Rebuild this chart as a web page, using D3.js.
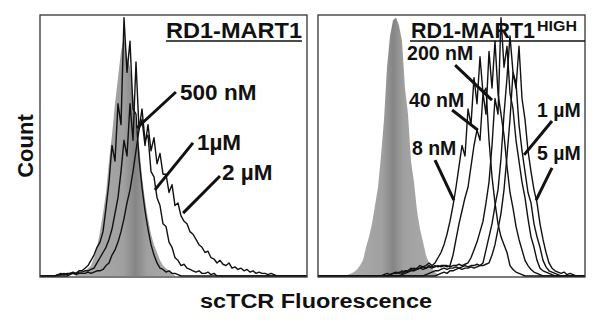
<!DOCTYPE html>
<html>
<head>
<meta charset="utf-8">
<script src="https://cdn.jsdelivr.net/npm/d3@7"></script>
<style>
  body { margin: 0; background: #fff; }
  text { font-family: "Liberation Sans", Arial, sans-serif; font-weight: bold; fill: #111; }
</style>
</head>
<body>
<svg width="601" height="324"></svg>
<script>
// histogram channels shown in each panel
const binCount = 89;

// left panel: RD1-MART1 (first bin of each series + counts per bin, % of max)
const leftControlStart = 12;
const leftControl = [0.5, 1, 1, 2, 3, 4, 7, 11, 17, 24, 32, 44, 54, 66, 76, 86, 92, 84, 80, 70, 58, 50, 38, 29, 22, 16, 12, 9, 6, 4, 3, 2, 1, 0.5];
const left500nMStart = 6;
const left500nM = [0.5, 1, 0.5, 1, 1, 1.5, 1, 2, 2, 3, 4, 6, 8, 11, 13, 17, 26, 36, 50, 44, 66, 58, 99, 78, 90, 64, 62, 45, 34, 25, 18, 12, 8, 5, 3, 2.5, 1.5, 2, 1, 1, 0.5];
const left1uMStart = 6;
const left1uM = [0.5, 0.5, 1, 0.5, 1, 1, 1, 1.5, 1.5, 2, 2, 2.5, 3, 5, 7, 9, 11, 14, 18, 24, 30, 40, 52, 46, 66, 52, 82, 56, 64, 52, 54, 40, 38, 30, 27, 20, 19, 13, 11, 7, 6, 4, 4.5, 3, 2.5, 2, 1.5, 2, 1, 1, 1.5, 0.5, 1];
const left2uMStart = 10;
const left2uM = [0.5, 1, 0.5, 1, 1, 1, 1.5, 1, 1.5, 2, 2, 2.5, 4, 5, 8, 10, 13, 17, 22, 28, 33, 40, 48, 56, 60, 50, 58, 48, 53, 43, 47, 39, 39, 32, 35, 27, 28, 23, 21, 20, 17, 16, 14, 12, 11, 9, 9.5, 7, 6.5, 5, 6, 4.5, 4, 5, 3, 3.5, 2.5, 3, 2, 2.5, 1.5, 2, 1, 1.5, 1, 1, 0.5, 1, 0.5];

// right panel: RD1-MART1 HIGH
const rightControlStart = 10;
const rightControl = [0.5, 1, 1.5, 2.5, 4, 6, 11, 15, 20, 27, 34, 46, 60, 80, 92, 98, 99, 96, 90, 72, 62, 44, 36, 25, 18, 13, 8, 5, 3, 1.5, 0.5];
const right8nMStart = 22;
const right8nM = [0.5, 1, 0.5, 1, 1.5, 1, 2, 1.5, 2, 3, 2.5, 3, 4, 3.5, 4, 5, 4, 5, 7, 9, 12, 16, 21, 27, 34, 42, 50, 46, 64, 58, 76, 66, 84, 70, 72, 52, 38, 28, 20, 15, 12, 9, 4, 2.5, 1.5, 1, 0.5];
const right40nMStart = 24;
const right40nM = [0.5, 1, 1, 1.5, 1, 2, 2, 2.5, 3, 2.5, 3, 3.5, 3, 4, 3.5, 4, 3.5, 4, 4, 3.5, 4, 8, 14, 20, 25, 30, 34, 42, 50, 56, 52, 70, 62, 86, 72, 90, 70, 62, 54, 42, 32, 26, 19, 14, 10, 6, 4, 2.5, 1.5, 1, 0.5];
const right200nMStart = 28;
const right200nM = [0.5, 1, 1.5, 2, 2, 2.5, 3, 2.5, 3, 3.5, 3, 3.5, 4, 3.5, 4, 4, 3.5, 4, 4, 4.5, 4, 4.5, 5, 7, 10, 13, 17, 21, 28, 36, 50, 68, 62, 99, 80, 88, 70, 64, 52, 44, 36, 30, 22, 15, 11, 6, 3, 2, 1.5, 1, 0.5];
const right1uMStart = 36;
const right1uM = [0.5, 1, 1.5, 2, 2, 2.5, 3, 2.5, 3, 3, 3.5, 3, 3.5, 4, 3.5, 4, 4, 4.5, 4, 5, 10, 15, 20, 27, 33, 45, 62, 76, 92, 78, 74, 58, 48, 40, 32, 28, 20, 15, 11, 6, 3.5, 2, 1.5, 1, 0.5];
const right5uMStart = 40;
const right5uM = [0.5, 1, 1.5, 1, 2, 2, 2.5, 3, 2.5, 3, 3, 3.5, 3, 3.5, 4, 4, 4.5, 5, 8, 12, 18, 24, 33, 46, 60, 78, 72, 88, 68, 60, 48, 40, 33, 28, 20, 14, 9, 5, 3, 2, 1.5, 1, 1.5, 0.5, 1, 0.5];

// concentration labels: text, label anchor (bin, count), pointer (bin, count) -> (bin, count)
const leftLabels = ["500 nM", "1µM", "2 µM"];
const leftLabelAt = [[46.7, 67.4], [52.3, 48.3], [60.7, 36.8]];
const leftPointers = [[[45.3, 70.5], [32.3, 56.7]], [[51, 51], [38.3, 33]], [[60, 38.3], [47.7, 24.1]]];
const rightLabels = ["200 nM", "40 nM", "8 nM", "1 µM", "5 µM"];
const rightLabelAt = [[29.7, 82.8], [30.3, 64.8], [31.3, 46.4], [73, 60.9], [73, 44.4]];
const rightPointers = [[[45.7, 80.8], [58, 67.4]], [[44.7, 63.6], [53.3, 55.9]], [[39, 44.4], [45.3, 29.1]], [[78, 59.4], [68.7, 46.4]], [[78, 41.4], [72.7, 29.1]]];

const svg = d3.select("svg");

// gradient for the grey control histogram (darker stripe in the middle)
const defs = svg.append("defs");
function greyGradient(id, mid) {
  const g = defs.append("linearGradient").attr("id", id).attr("x1", 0).attr("x2", 1).attr("y1", 0).attr("y2", 0);
  g.append("stop").attr("offset", 0).attr("stop-color", "#acacac");
  g.append("stop").attr("offset", mid - 0.12).attr("stop-color", "#a0a0a0");
  g.append("stop").attr("offset", mid).attr("stop-color", "#858585");
  g.append("stop").attr("offset", mid + 0.12).attr("stop-color", "#a0a0a0");
  g.append("stop").attr("offset", 1).attr("stop-color", "#acacac");
}
greyGradient("greyL", 0.6);
greyGradient("greyR", 0.5);

const y = d3.scaleLinear().domain([0, 100]).range([276, 15]);

// series as bins; outside the listed range the count is zero
function series(start, counts, pad) {
  const out = [];
  const lo = pad ? 0 : start, hi = pad ? binCount : start + counts.length - 1;
  for (let b = lo; b <= hi; b++) {
    const c = b >= start && b < start + counts.length ? counts[b - start] : 0;
    out.push({ bin: b, count: c });
  }
  return out;
}

function drawPanel(p) {
  const x = d3.scaleLinear().domain([0, binCount]).range([p.left, p.right]);
  const g = svg.append("g");

  const area = d3.area().x(d => x(d.bin)).y0(y(0)).y1(d => y(d.count));
  g.append("path")
    .datum(series(p.control[0], p.control[1], false))
    .attr("d", area)
    .attr("fill", `url(#${p.grad})`);

  const line = d3.line().x(d => x(d.bin)).y(d => y(d.count));
  g.selectAll(".hist")
    .data(p.lines)
    .enter()
    .append("path")
    .attr("class", "hist")
    .attr("d", d => line(series(d[0], d[1], true)))
    .attr("fill", "none")
    .attr("stroke", "#111")
    .attr("stroke-width", 1.4)
    .attr("stroke-linejoin", "round");

  // frame
  g.append("rect")
    .attr("x", p.left).attr("y", 15)
    .attr("width", p.right - p.left).attr("height", 262)
    .attr("fill", "none").attr("stroke", "#333").attr("stroke-width", 1.3);

  // pointers + labels
  g.selectAll(".ptr")
    .data(p.pointers)
    .enter()
    .append("line")
    .attr("x1", d => x(d[0][0])).attr("y1", d => y(d[0][1]))
    .attr("x2", d => x(d[1][0])).attr("y2", d => y(d[1][1]))
    .attr("stroke", "#111").attr("stroke-width", 3);

  g.selectAll(".lab")
    .data(p.labels)
    .enter()
    .append("text")
    .attr("x", (d, i) => x(p.labelAt[i][0]))
    .attr("y", (d, i) => y(p.labelAt[i][1]))
    .style("font-size", p.fontSize + "px")
    .text(d => d);
  return g;
}

drawPanel({
  left: 40, right: 307, grad: "greyL", fontSize: 22.5,
  control: [leftControlStart, leftControl],
  lines: [[left500nMStart, left500nM], [left1uMStart, left1uM], [left2uMStart, left2uM]],
  labels: leftLabels, labelAt: leftLabelAt, pointers: leftPointers
});
drawPanel({
  left: 318, right: 585, grad: "greyR", fontSize: 19.5,
  control: [rightControlStart, rightControl],
  lines: [[right8nMStart, right8nM], [right40nMStart, right40nM], [right200nMStart, right200nM], [right1uMStart, right1uM], [right5uMStart, right5uM]],
  labels: rightLabels, labelAt: rightLabelAt, pointers: rightPointers
});

// panel titles
svg.append("text").attr("x", 302).attr("y", 38).attr("text-anchor", "end")
  .attr("textLength", 136).attr("lengthAdjust", "spacingAndGlyphs")
  .style("font-size", "22px").text("RD1-MART1");
svg.append("line").attr("x1", 166).attr("x2", 302).attr("y1", 41).attr("y2", 41)
  .attr("stroke", "#111").attr("stroke-width", 1.5);

svg.append("text").attr("x", 411).attr("y", 38)
  .attr("textLength", 124).attr("lengthAdjust", "spacingAndGlyphs")
  .style("font-size", "22px").text("RD1-MART1");
svg.append("text").attr("x", 537).attr("y", 31)
  .attr("textLength", 40).attr("lengthAdjust", "spacingAndGlyphs")
  .style("font-size", "14px").text("HIGH");
svg.append("line").attr("x1", 410).attr("x2", 585).attr("y1", 41).attr("y2", 41)
  .attr("stroke", "#111").attr("stroke-width", 1.5);

// axis titles
svg.append("text").attr("transform", "translate(33,146) rotate(-90)")
  .attr("text-anchor", "middle").style("font-size", "22px").text("Count");
svg.append("text").attr("x", 316).attr("y", 308).attr("text-anchor", "middle")
  .attr("textLength", 232).attr("lengthAdjust", "spacingAndGlyphs")
  .style("font-size", "20px").text("scTCR Fluorescence");
</script>
</body>
</html>
